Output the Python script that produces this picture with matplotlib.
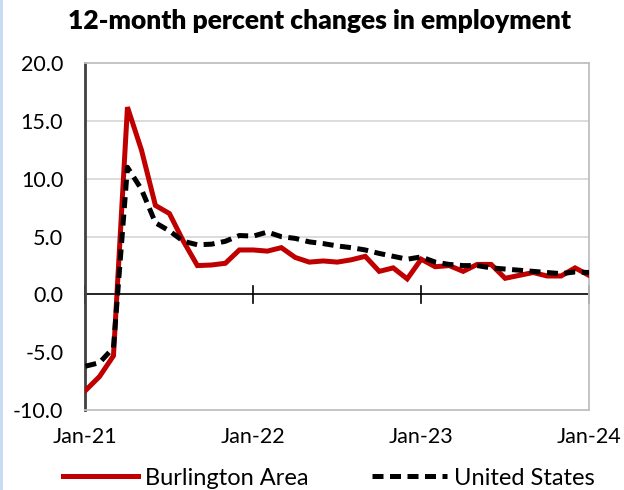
import numpy as np
import pandas as pd
import matplotlib
matplotlib.use("Agg")
import matplotlib.pyplot as plt
from matplotlib.lines import Line2D

plt.rcParams['font.family'] = ['Lato', 'DejaVu Sans']

# monthly 12-month percent changes, Jan-21 .. Jan-24
months = pd.date_range("2021-01-01", "2024-01-01", freq="MS")
burlington = [-8.3, -7.1, -5.3, 16.2, 12.5, 7.7, 7.0, 4.6, 2.5, 2.55, 2.7, 3.85,
              3.85, 3.75, 4.05, 3.2, 2.8, 2.9, 2.8, 3.0, 3.3, 2.0, 2.3, 1.35,
              3.05, 2.4, 2.5, 2.0, 2.6, 2.6, 1.4, 1.65, 1.9, 1.6, 1.6, 2.3,
              1.65]
united_states = [-6.2, -5.9, -4.6, 11.0, 9.1, 6.2, 5.5, 4.6, 4.3, 4.35, 4.6, 5.1,
                 5.05, 5.4, 5.0, 4.85, 4.55, 4.4, 4.2, 4.05, 3.85, 3.55, 3.3, 3.05,
                 3.25, 2.8, 2.6, 2.5, 2.5, 2.3, 2.2, 2.1, 2.0, 1.9, 1.8, 1.95,
                 1.9]
xtick_labels = ["Jan-21", "Jan-22", "Jan-23", "Jan-24"]
yticks = [-10, -5, 0, 5, 10, 15, 20]

x = np.arange(len(months))

fig = plt.figure(figsize=(6.24, 4.9), dpi=100)
ax = fig.add_axes([0.137, 0.163, 0.807, 0.708])

ax.plot(x, burlington, color="#c00000", lw=3.6, solid_joinstyle="miter",
        zorder=3, label="Burlington Area")
ax.plot(x, united_states, color="black", lw=3.6, dashes=(2.2, 1.3),
        zorder=4, label="United States")

ax.set_xlim(0, len(months) - 1)
ax.set_ylim(-10, 20)
ax.set_yticks(yticks)
ax.set_yticklabels([f"{v:.1f}" for v in yticks], fontsize=15.5)
ax.tick_params(axis="y", length=0, pad=16)
for v in [5, 10, 15]:
    ax.axhline(v, color="#d9d9d9", lw=1.3, zorder=1)

# zero line with year ticks crossing it
ax.axhline(0, color="black", lw=1.2, zorder=2)
year_pos = [i for i, m in enumerate(months) if m.month == 1]
ax.set_xticks(year_pos)
ax.set_xticklabels([])
ax.tick_params(axis="x", length=0)
for p in year_pos:
    ax.plot([p, p], [-0.7, 0.7], color="black", lw=1.2, zorder=2,
            clip_on=False)
for p, lab in zip(year_pos, xtick_labels):
    ax.text(p, -11.5, lab, ha="center", va="top", fontsize=15.5,
            transform=ax.transData)

for side in ["top", "right", "bottom"]:
    ax.spines[side].set_color("#bfbfbf")
    ax.spines[side].set_linewidth(1.3)
ax.spines["left"].set_color("#404040")
ax.spines["left"].set_linewidth(2)

fig.text(0.512, 0.957, "12-month percent changes in employment",
         ha="center", va="center", fontsize=19, fontweight="heavy")

handles = [Line2D([], [], color="#c00000", lw=3.6),
           Line2D([], [], color="black", lw=3.6, dashes=(2.2, 1.3))]
fig.legend(handles, ["Burlington Area", "United States"], loc="center",
           bbox_to_anchor=(0.527, 0.024), ncol=2, frameon=False, fontsize=17,
           handlelength=3.2, handletextpad=0.3, columnspacing=2.65)

# thin blue strip on the left edge
fig.add_artist(Line2D([0.002, 0.002], [0, 1], color="#c6d9f1", lw=2,
                      transform=fig.transFigure))

fig.savefig("out.png", dpi=100)
